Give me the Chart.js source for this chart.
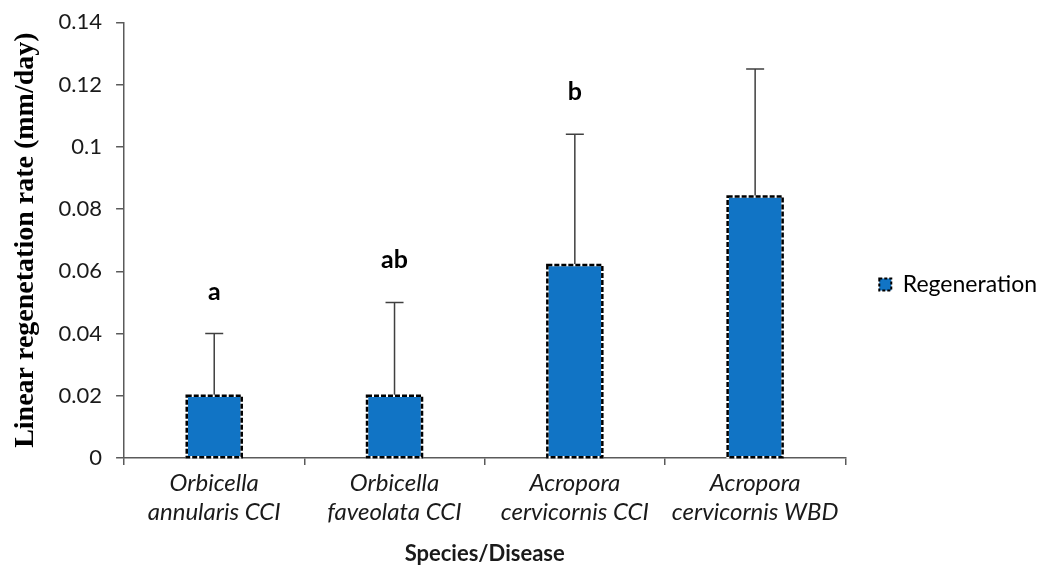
<!DOCTYPE html>
<html>
<head>
<meta charset="utf-8">
<script src="https://cdn.jsdelivr.net/npm/chart.js@4.4.1/dist/chart.umd.min.js"></script>
<style>
  html, body { margin: 0; padding: 0; background: #fff; }
  #wrap { width: 1055px; height: 571px; position: relative; }
</style>
</head>
<body>
<div id="wrap"><canvas id="c"></canvas></div>
<script>
// Mean linear regeneration rate per species / disease
const categories = [
  ['Orbicella', 'annularis CCI'],
  ['Orbicella', 'faveolata CCI'],
  ['Acropora', 'cervicornis CCI'],
  ['Acropora', 'cervicornis WBD']
];
const regeneration = [0.020, 0.020, 0.062, 0.084];
// Upper end of each error bar
const errorTop = [0.040, 0.050, 0.104, 0.125];
// Significance group letters
const groupLetters = ['a', 'ab', 'b', ''];
const yTickLabels = ['0', '0.02', '0.04', '0.06', '0.08', '0.1', '0.12', '0.14'];

const BAR_BLUE = '#1174c5';
const AXIS = '#5a5a5a';
const TEXT = '#1a1a1a';
const SANS = 'Lato, "Open Sans", sans-serif';

// Dashed outline around each bar (bar elements only support solid borders)
const dashedBorders = {
  id: 'dashedBorders',
  afterDatasetsDraw(chart) {
    const ctx = chart.ctx;
    chart.getDatasetMeta(0).data.forEach(bar => {
      const { x, y, base, width } = bar.getProps(['x', 'y', 'base', 'width'], true);
      const l = x - width / 2, t = Math.min(y, base), h = Math.abs(base - y);
      ctx.save();
      ctx.lineWidth = 2.5;
      ctx.strokeStyle = '#ffffff';
      ctx.strokeRect(l, t, width, h);
      ctx.setLineDash([5, 2]);
      ctx.strokeStyle = '#000000';
      ctx.strokeRect(l, t, width, h);
      ctx.restore();
    });
  }
};

// Upper error whiskers and group letters above them
const errorBars = {
  id: 'errorBars',
  afterDatasetsDraw(chart) {
    const ctx = chart.ctx;
    const yScale = chart.scales.y;
    chart.getDatasetMeta(0).data.forEach((bar, i) => {
      const x = bar.x;
      const yTop = yScale.getPixelForValue(errorTop[i]);
      const yBar = yScale.getPixelForValue(regeneration[i]) - 1;
      ctx.save();
      ctx.strokeStyle = '#404040';
      ctx.lineWidth = 1.5;
      ctx.beginPath();
      ctx.moveTo(x, yBar);
      ctx.lineTo(x, yTop);
      ctx.moveTo(x - 9, yTop);
      ctx.lineTo(x + 9, yTop);
      ctx.stroke();
      if (groupLetters[i]) {
        ctx.fillStyle = '#000';
        ctx.font = 'bold 25px ' + SANS;
        ctx.textAlign = 'center';
        ctx.textBaseline = 'middle';
        ctx.fillText(groupLetters[i], x, yTop - 42);
      }
      ctx.restore();
    });
  }
};

new Chart(document.getElementById('c'), {
  type: 'bar',
  data: {
    labels: categories,
    datasets: [{
      label: 'Regeneration',
      data: regeneration,
      backgroundColor: BAR_BLUE,
      borderWidth: 0,
      categoryPercentage: 1,
      barPercentage: 0.305
    }]
  },
  options: {
    responsive: true,
    maintainAspectRatio: false,
    animation: false,
    devicePixelRatio: 1,
    layout: { padding: { top: 2, right: 8, left: 9, bottom: 4 } },
    plugins: {
      tooltip: { enabled: false },
      legend: {
        position: 'right',
        labels: {
          font: { family: SANS, size: 23 },
          color: TEXT,
          boxWidth: 12,
          boxHeight: 12,
          padding: 34,
          generateLabels: () => [{
            text: 'Regeneration',
            fillStyle: BAR_BLUE,
            strokeStyle: '#000',
            lineWidth: 2,
            lineDash: [3, 2],
            hidden: false,
            datasetIndex: 0
          }]
        }
      }
    },
    scales: {
      x: {
        offset: true,
        grid: {
          offset: true,
          drawOnChartArea: false,
          drawTicks: true,
          tickLength: 7,
          color: AXIS,
          lineWidth: 1.5
        },
        border: { color: AXIS, width: 1.5 },
        ticks: {
          color: TEXT,
          font: { family: SANS, size: 24, style: 'italic', lineHeight: 1.2 },
          padding: 4,
          maxRotation: 0,
          autoSkip: false
        },
        title: {
          display: true,
          text: 'Species/Disease',
          color: TEXT,
          font: { family: SANS, size: 22, weight: 'bold' },
          padding: { top: 10, bottom: 0 }
        }
      },
      y: {
        min: 0,
        max: 0.14,
        ticks: {
          stepSize: 0.02,
          color: TEXT,
          font: { family: SANS, size: 22, lineHeight: 0.75 },
          padding: 14,
          callback: (v, i) => yTickLabels[i]
        },
        grid: {
          drawOnChartArea: false,
          drawTicks: true,
          tickLength: 8,
          color: AXIS,
          lineWidth: 1.5
        },
        border: { color: AXIS, width: 1.5 },
        title: {
          display: true,
          text: 'Linear regenetation rate (mm/day)',
          color: '#000',
          font: { family: '"Liberation Serif", "Times New Roman", serif', size: 28, weight: 'bold' },
          padding: { top: 0, bottom: 2 }
        }
      }
    }
  },
  plugins: [dashedBorders, errorBars]
});
</script>
</body>
</html>
